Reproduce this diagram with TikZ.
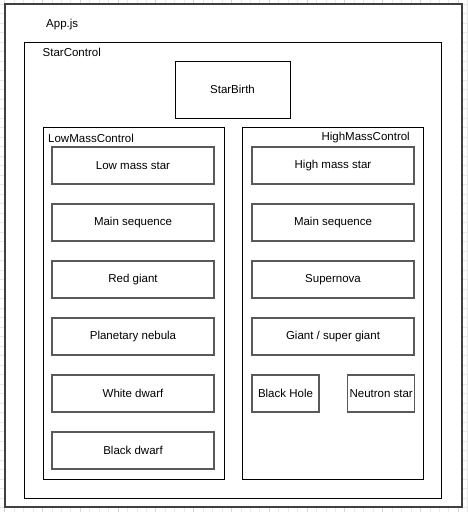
\documentclass[tikz,border=0pt]{standalone}
\usepackage{fontspec}
\setmainfont{Liberation Sans}
\begin{document}
\begin{tikzpicture}[x=1pt,y=-1pt,
  container/.style={draw=black,line width=0.9pt,fill=white},
  outerbox/.style={draw=black!75,line width=1.2pt,fill=white},
  stagebox/.style={draw=black!65,line width=1.2pt,fill=white},
  lbl/.style={font=\fontsize{11.5}{13}\selectfont,inner sep=0pt},
  minorgrid/.style={draw=black!9,line width=0.5pt},
  majorgrid/.style={draw=black!16,line width=0.5pt}]
\useasboundingbox (0,0) rectangle (467,512);
\fill[white] (0,0) rectangle (467,512);
% background grid
\foreach \i in {0,...,49} {
  \pgfmathsetmacro{\gx}{4.5+9.45*\i}
  \draw[minorgrid] (\gx,0) -- (\gx,512);
}
\foreach \i in {0,...,53} {
  \pgfmathsetmacro{\gy}{4+9.5*\i}
  \draw[minorgrid] (0,\gy) -- (467,\gy);
}
\foreach \i in {0,...,12} {
  \pgfmathsetmacro{\gx}{4.5+37.8*\i}
  \draw[majorgrid] (\gx,0) -- (\gx,512);
}
% containers
\draw[outerbox] (5,4) rectangle (462,507);
\node[lbl,anchor=west] (app) at (46,25) {App.js};
\draw[container] (24,42) rectangle (441,498);
\node[lbl,anchor=west] (sc) at (42.5,52) {StarControl};
\node[container,minimum width=115pt,minimum height=57pt,font=\fontsize{11.5}{13}\selectfont] (birth) at (232.5,89.5) {StarBirth};
\draw[container] (43,127) rectangle (224,479);
\node[lbl,anchor=west] (lmc) at (48,138) {LowMassControl};
\draw[container] (242,127) rectangle (423,479);
\node[lbl,anchor=east] (hmc) at (410,138) {HighMassControl};
% low mass column
\tikzset{stage/.style={stagebox,minimum width=162pt,minimum height=37pt,inner sep=0pt,font=\fontsize{11.5}{13}\selectfont}}
\node[stage] (l1) at (133,165.5) {Low mass star};
\node[stage] (l2) at (133,222.5) {Main sequence};
\node[stage] (l3) at (133,279.5) {Red giant};
\node[stage] (l4) at (133,336.5) {Planetary nebula};
\node[stage] (l5) at (133,393.5) {White dwarf};
\node[stage] (l6) at (133,450.5) {Black dwarf};
% high mass column
\node[stage] (h1) at (333,165.5) {High mass star};
\node[stage] (h2) at (333,222.5) {Main sequence};
\node[stage] (h3) at (333,279.5) {Supernova};
\node[stage] (h4) at (333,336.5) {Giant / super giant};
\node[stage,minimum width=67pt] (h5) at (285.5,393.5) {Black Hole};
\node[stage,minimum width=67pt] (h6) at (381.2,393.5) {Neutron star};
\end{tikzpicture}
\end{document}
